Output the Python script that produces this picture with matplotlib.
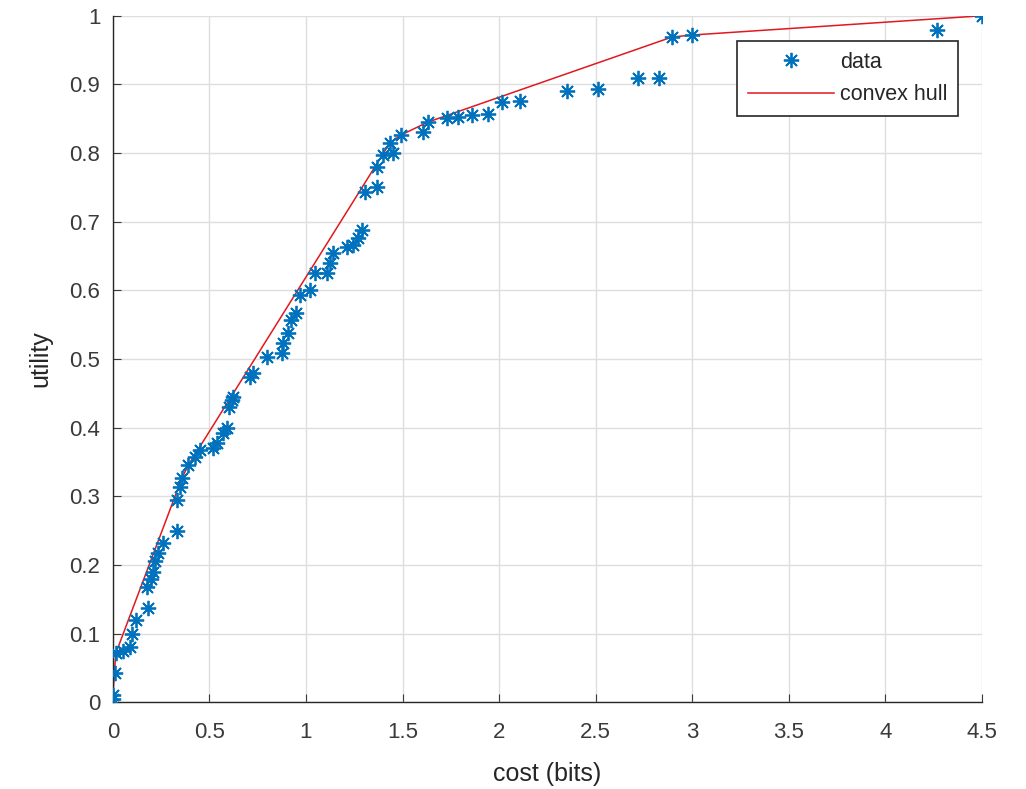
import numpy as np
import matplotlib
matplotlib.use("Agg")
import matplotlib.pyplot as plt

cost = [0.0, 0.0, 0.01, 0.015, 0.05, 0.088, 0.10, 0.12, 0.18, 0.175, 0.20, 0.21,
        0.22, 0.235, 0.26, 0.33, 0.33, 0.347, 0.357, 0.39, 0.425, 0.45, 0.52, 0.54,
        0.57, 0.59, 0.60, 0.615, 0.62, 0.71, 0.725, 0.80, 0.875, 0.88, 0.906, 0.925,
        0.95, 0.968, 1.02, 1.045, 1.108, 1.125, 1.14, 1.21, 1.245, 1.27, 1.29, 1.305,
        1.37, 1.37, 1.40, 1.435, 1.45, 1.49, 1.605, 1.63, 1.73, 1.785, 1.86, 1.94,
        2.015, 2.11, 2.35, 2.51, 2.72, 2.83, 2.895, 3.0, 4.27, 4.5]
utility = [0.005, 0.01, 0.042, 0.071, 0.075, 0.08, 0.10, 0.12, 0.137, 0.168, 0.18, 0.19,
           0.205, 0.217, 0.232, 0.25, 0.295, 0.314, 0.326, 0.345, 0.357, 0.367, 0.37, 0.377,
           0.392, 0.40, 0.43, 0.44, 0.445, 0.474, 0.48, 0.503, 0.509, 0.523, 0.538, 0.557,
           0.567, 0.593, 0.60, 0.625, 0.625, 0.64, 0.655, 0.663, 0.666, 0.676, 0.688, 0.743,
           0.751, 0.78, 0.797, 0.815, 0.80, 0.826, 0.831, 0.845, 0.851, 0.853, 0.856, 0.857,
           0.875, 0.876, 0.891, 0.893, 0.91, 0.91, 0.969, 0.972, 0.98, 1.0]

xticks = [0, 0.5, 1, 1.5, 2, 2.5, 3, 3.5, 4, 4.5]
yticks = [0, 0.1, 0.2, 0.3, 0.4, 0.5, 0.6, 0.7, 0.8, 0.9, 1]


def upper_hull(xs, ys):
    pts = sorted(set(zip(xs, ys)))
    hull = []
    for p in pts:
        while len(hull) >= 2:
            (x1, y1), (x2, y2) = hull[-2], hull[-1]
            cross = (x2 - x1) * (p[1] - y1) - (y2 - y1) * (p[0] - x1)
            if cross >= 0:
                hull.pop()
            else:
                break
        hull.append(p)
    out = [hull[0]]
    for p in hull[1:]:
        if p[1] > out[-1][1]:
            out.append(p)
    return out


hull = upper_hull(cost, utility)
hx = [p[0] for p in hull]
hy = [p[1] for p in hull]

plt.rcParams['font.family'] = ['Liberation Sans Narrow', 'Liberation Sans', 'DejaVu Sans']
fig = plt.figure(figsize=(10.26, 7.89), dpi=100)
ax = fig.add_axes([0.110, 0.110, 0.847, 0.870])

ax.plot(cost, utility, linestyle='none', marker=(8, 2, 0), markersize=11,
        markeredgewidth=1.3, color='#0072BD', label='data', zorder=3)
ax.plot(hx, hy, color='#E0191F', linewidth=1.1, label='convex hull', zorder=2)

ax.set_xlim(0, 4.5)
ax.set_ylim(0, 1)
ax.set_xticks(xticks)
ax.set_yticks(yticks)
ax.set_xticklabels([f"{t:g}" for t in xticks])
ax.set_yticklabels([f"{t:g}" for t in yticks])
ax.grid(True, color='#dedede', linewidth=1.0)
ax.set_axisbelow(True)
for s in ['top', 'right']:
    ax.spines[s].set_visible(False)
for s in ['left', 'bottom']:
    ax.spines[s].set_color('#262626')
    ax.spines[s].set_linewidth(1.0)
ax.tick_params(direction='in', length=6, colors='#3a3a3a', labelsize=16)
ax.tick_params(axis='x', pad=14)
ax.tick_params(axis='y', pad=9)
ax.set_xlabel('cost (bits)', fontsize=18, color='#262626', labelpad=14)
ax.set_ylabel('utility', fontsize=18, color='#262626', labelpad=12)

leg = ax.legend(loc='upper right', bbox_to_anchor=(0.9724, 0.9636), fontsize=15.5,
                frameon=True, fancybox=False, edgecolor='#262626', framealpha=1,
                handlelength=4.0, borderpad=0.5, labelspacing=0.55, handletextpad=0.25,
                borderaxespad=0)
leg.get_frame().set_linewidth(1.2)
for t in leg.get_texts():
    t.set_color('#262626')

fig.savefig('out.png', dpi=100)
